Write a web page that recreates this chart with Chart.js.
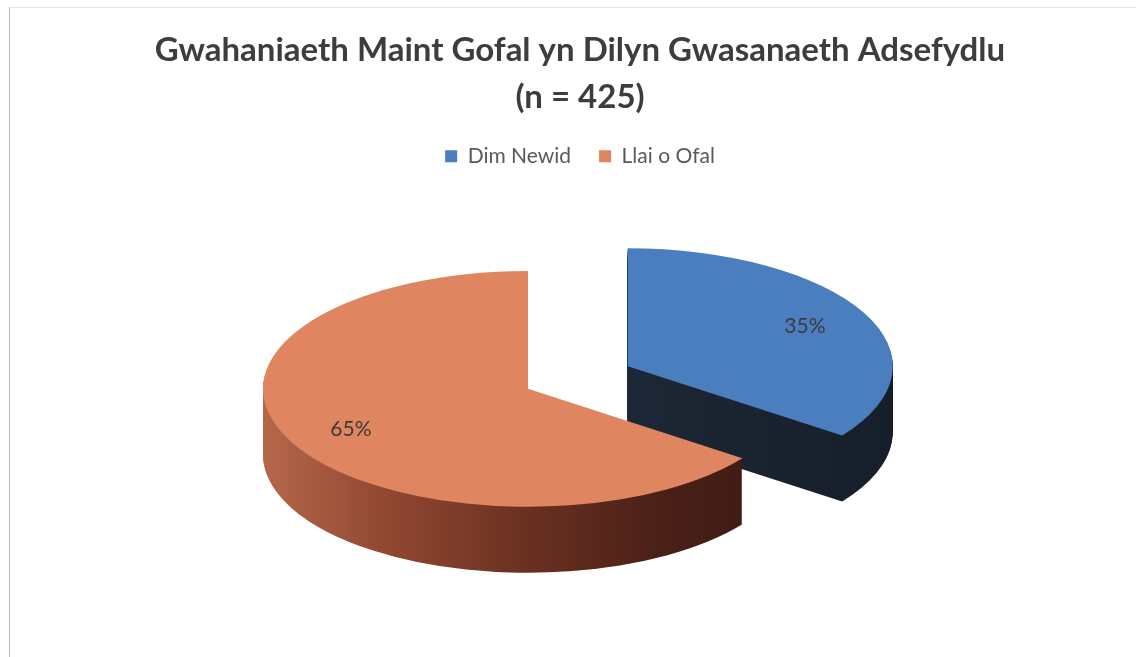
<!DOCTYPE html>
<html>
<head>
<meta charset="utf-8">
<title>Gwahaniaeth Maint Gofal</title>
<script src="https://cdn.jsdelivr.net/npm/chart.js@4.4.1/dist/chart.umd.min.js"></script>
<style>
  html, body { margin: 0; padding: 0; background: #fff; }
  #wrap { position: relative; width: 1136px; height: 657px; }
  #frame {
    position: absolute; left: 9px; top: 7px; right: 0; bottom: 0;
    border-left: 1px solid #bdbdbd; border-top: 1px solid #e6e6e6;
    pointer-events: none;
  }
</style>
</head>
<body>
<div id="wrap">
  <canvas id="pie" width="1136" height="657"></canvas>
  <div id="frame"></div>
</div>
<script>
// data
const categories = ['Dim Newid', 'Llai o Ofal'];
const percents = [35, 65];
const titleLines = ['Gwahaniaeth Maint Gofal yn Dilyn Gwasanaeth Adsefydlu', '(n = 425)'];

// colours: top face + side wall shading (left -> right)
const topColors = ['#4a7ebf', '#df8660'];
const wallColors = [
  ['#27364b', '#1d2836', '#161e29'],
  ['#b5674a', '#8e4630', '#6a3020', '#4a2018', '#3a1914']
];

// draws each slice as a squashed disc with a side wall, using the arc elements Chart.js laid out
function drawSlice(ctx, arc, i, drop, fill, o) {
  const mid = (arc.startAngle + arc.endAngle) / 2;
  const d = o.explode[i] || 0;
  ctx.save();
  ctx.translate(o.shiftX, drop);
  ctx.translate(arc.x, arc.y);
  ctx.scale(1, o.tilt);
  ctx.translate(Math.cos(mid) * d, Math.sin(mid) * d);
  ctx.translate(-arc.x, -arc.y);
  const face = Object.create(arc);
  face.options = Object.assign({}, arc.options, { backgroundColor: fill, borderWidth: 0, offset: 0 });
  face.draw(ctx);
  ctx.restore();
}

const pie3d = {
  id: 'pie3d',
  beforeDatasetsDraw(chart, args, o) {
    const ctx = chart.ctx;
    const arcs = chart.getDatasetMeta(0).data;
    const cx = arcs[0].x, r = arcs[0].outerRadius;

    const walls = wallColors.map(stops => {
      const g = ctx.createLinearGradient(cx - r, 0, cx + r, 0);
      stops.forEach((c, k) => g.addColorStop(k / (stops.length - 1), c));
      return g;
    });

    for (let y = o.depth; y >= 1; y--) {
      arcs.forEach((arc, i) => drawSlice(ctx, arc, i, y, walls[i], o));
    }
    arcs.forEach((arc, i) => drawSlice(ctx, arc, i, 0, arc.options.backgroundColor, o));

    // percentage labels on the top faces
    ctx.save();
    ctx.font = '21px Lato';
    ctx.fillStyle = '#3b3b3b';
    ctx.textAlign = 'center';
    ctx.textBaseline = 'middle';
    arcs.forEach((arc, i) => {
      const mid = (arc.startAngle + arc.endAngle) / 2;
      const dist = (o.explode[i] || 0) + arc.outerRadius * o.labelAt;
      const x = arc.x + o.shiftX + Math.cos(mid) * dist;
      const y = arc.y + Math.sin(mid) * dist * o.tilt;
      ctx.fillText(percents[i] + '%', x, y);
    });
    ctx.restore();
    return false;
  }
};

new Chart(document.getElementById('pie'), {
  type: 'pie',
  data: {
    labels: categories,
    datasets: [{
      data: percents,
      backgroundColor: topColors,
      borderWidth: 0,
      radius: 265,
      clip: false
    }]
  },
  options: {
    responsive: false,
    animation: false,
    events: [],
    layout: { padding: { top: 27, right: 0, bottom: 56, left: 24 } },
    plugins: {
      title: {
        display: true,
        text: titleLines,
        color: '#3d3d3d',
        font: { family: 'Lato', size: 33, weight: 'bold', lineHeight: 1.42 },
        padding: { top: 0, bottom: -3 }
      },
      legend: {
        position: 'top',
        labels: {
          color: '#595959',
          font: { family: 'Lato', size: 21 },
          boxWidth: 12,
          boxHeight: 12,
          padding: 28
        }
      },
      tooltip: { enabled: false },
      pie3d: { tilt: 0.445, depth: 66, explode: [112, 0], labelAt: 0.75, shiftX: -52 }
    }
  },
  plugins: [pie3d]
});
</script>
</body>
</html>
